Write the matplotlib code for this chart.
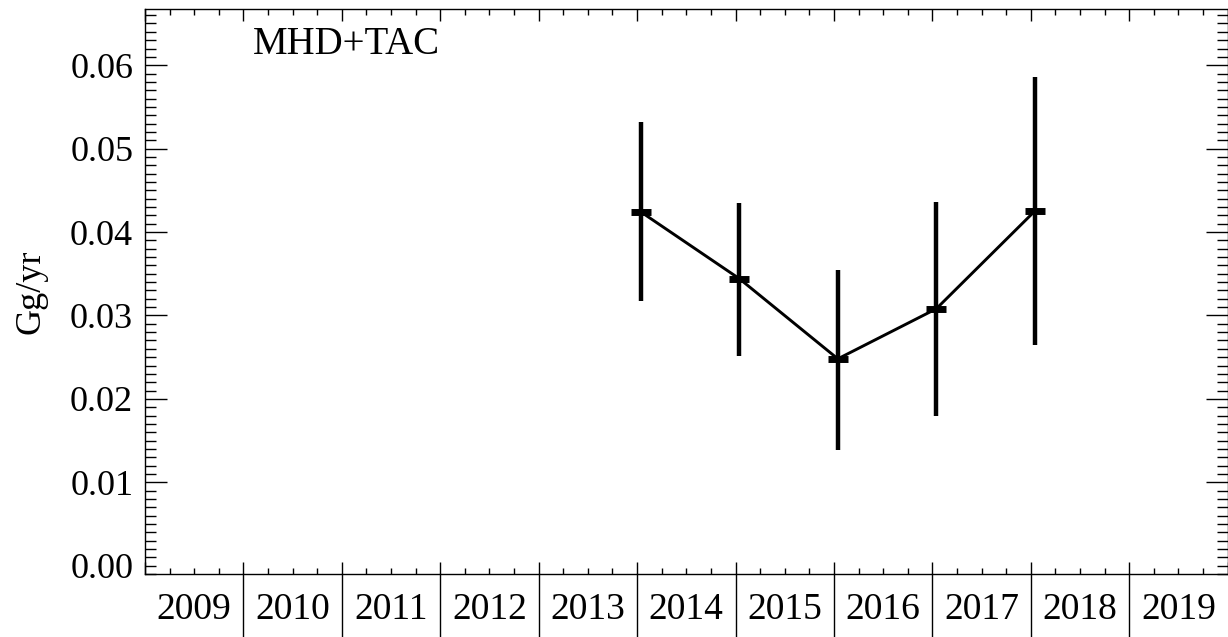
import matplotlib.pyplot as plt
from matplotlib.ticker import MultipleLocator
import matplotlib.transforms as mtransforms

plt.rcParams['font.family'] = ['Liberation Serif', 'DejaVu Serif']

# yearly values (Gg/yr) and their uncertainty range
years = [2014, 2015, 2016, 2017, 2018]
flux = [0.0424, 0.0344, 0.0248, 0.0308, 0.0425]
flux_low = [0.0317, 0.0251, 0.0139, 0.0180, 0.0265]
flux_high = [0.0532, 0.0435, 0.0355, 0.0436, 0.0586]
year_labels = ['2009', '2010', '2011', '2012', '2013', '2014',
               '2015', '2016', '2017', '2018', '2019']
first_year = 2009

# points sit in mid January of each year
x = [y + 0.04 for y in years]

fig = plt.figure(figsize=(12.28, 6.37), dpi=100)
ax = fig.add_axes([145 / 1228, 62.7 / 637, 1082.6 / 1228, 565 / 637])

ax.plot(x, flux, color='black', lw=2.1, zorder=3)
ax.vlines(x, flux_low, flux_high, color='black', lw=3.2, zorder=3)
ax.plot(x, flux, ls='none', marker='_', ms=15, mew=5, color='black', zorder=4)

ax.set_xlim(first_year, first_year + len(year_labels))
ax.set_ylim(-0.00103, 0.0667)

# x axis: year boundaries, quarter minor ticks, labels between boundaries
ax.xaxis.set_major_locator(MultipleLocator(1))
ax.xaxis.set_minor_locator(MultipleLocator(0.25))
ax.tick_params(axis='x', which='both', labelbottom=False, top=True, bottom=True, direction='in')
ax.tick_params(axis='x', which='major', length=8.5, width=1)
ax.tick_params(axis='x', which='minor', length=4.2, width=1)

trans = mtransforms.blended_transform_factory(ax.transData, ax.transAxes)
for i, lab in enumerate(year_labels):
    ax.text(first_year + i + 0.5, -0.063, lab, transform=trans, ha='center', va='center', fontsize=27)
    if i > 0:
        ax.plot([first_year + i, first_year + i], [0, -0.12], transform=trans,
                color='black', lw=1, clip_on=False)

# y axis
ax.yaxis.set_major_locator(MultipleLocator(0.01))
ax.yaxis.set_minor_locator(MultipleLocator(0.001))
ax.yaxis.set_major_formatter(plt.FormatStrFormatter('%.2f'))
ax.tick_params(axis='y', which='both', left=True, right=True, direction='in', labelsize=26, pad=8.5)
ax.tick_params(axis='y', which='major', length=15.6, width=1)
ax.tick_params(axis='y', which='minor', length=8, width=1)
ax.set_ylabel('Gg/yr', fontsize=26)
ax.yaxis.set_label_coords(-0.0896, 0.5)

# the 0.00 tick is drawn short in the original
fig.canvas.draw()
for t in ax.yaxis.get_major_ticks():
    if abs(t.get_loc()) < 1e-9:
        t.tick1line.set_markersize(8)
        t.tick2line.set_markersize(8)

for sp in ax.spines.values():
    sp.set_linewidth(1)

ax.text(0.1, 0.921, 'MHD+TAC', transform=ax.transAxes, fontsize=28, ha='left', va='baseline')

fig.savefig('out.png', dpi=100)
